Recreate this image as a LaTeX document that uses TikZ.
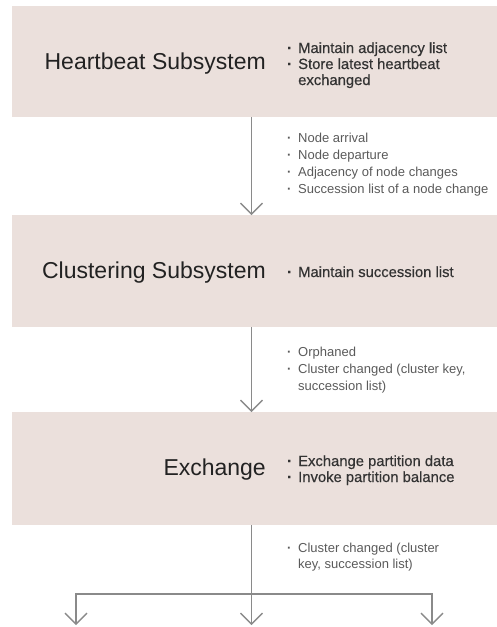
\documentclass[tikz,border=0pt]{standalone}
\usepackage{fontspec}
\setmainfont{Liberation Sans}
\newfontfamily\medfont{Liberation Sans}[FakeBold=0.5]
\usetikzlibrary{arrows.meta}
\definecolor{panelfill}{HTML}{EBE0DC}
\definecolor{titleink}{HTML}{222222}
\definecolor{noteink}{HTML}{333333}
\definecolor{flowink}{HTML}{5A5A5A}
\definecolor{lineink}{HTML}{8A8A8A}
% bullet list: a narrow bullet column and a text column
\newcommand\bulletlist[1]{\begin{tabular}[t]{@{}p{11pt}@{}l@{}}#1\end{tabular}}
\newcommand\blt{{\bfseries\textperiodcentered}}
\begin{document}
\begin{tikzpicture}[x=1pt,y=-1pt,
  panel/.style={fill=panelfill, draw=none, inner sep=0, anchor=north west,
                minimum width=485pt, minimum height=111pt},
  title/.style={anchor=base east, inner sep=0, text=titleink,
                font=\fontsize{23}{27}\selectfont},
  inlist/.style={anchor=base west, inner sep=0, text=noteink,
                font=\medfont\fontsize{14.8}{16}\selectfont},
  outlist/.style={anchor=base west, inner sep=0, text=flowink,
                font=\fontsize{13}{17.3}\selectfont},
  link/.style={draw=lineink, line width=1.4pt},
  flow/.style={link, -{Straight Barb[length=11pt,width=22pt]}}]
\useasboundingbox (0,0) rectangle (497,627);

% subsystem panels
\node[panel] (hb) at (12,6) {};
\node[panel, minimum height=112pt] (cl) at (12,215) {};
\node[panel, minimum height=113pt] (ex) at (12,412) {};

% panel titles
\node[title] (hbtitle) at (266,69) {Heartbeat Subsystem};
\node[title] (cltitle) at (266,278) {Clustering Subsystem};
\node[title] (extitle) at (266,475) {Exchange};

% duties of each subsystem
\node[inlist] (hbnotes) at (287,53) {\bulletlist{%
  \blt & Maintain adjacency list\\
  \blt & Store latest heartbeat\\
       & exchanged}};
\node[inlist] (clnotes) at (287,277) {\bulletlist{%
  \blt & Maintain succession list}};
\node[inlist] (exnotes) at (287,466) {\bulletlist{%
  \blt & Exchange partition data\\
  \blt & Invoke partition balance}};

% events passed down the chain
\node[outlist] (hbevents) at (287,142) {\bulletlist{%
  \blt & Node arrival\\
  \blt & Node departure\\
  \blt & Adjacency of node changes\\
  \blt & Succession list of a node change}};
\node[outlist, font=\fontsize{13}{17}\selectfont] (clevents) at (287,356) {\bulletlist{%
  \blt & Orphaned\\
  \blt & Cluster changed (cluster key,\\
       & succession list)}};
\node[outlist, font=\fontsize{13}{16}\selectfont] (exevents) at (287,552) {\bulletlist{%
  \blt & Cluster changed (cluster\\
       & key, succession list)}};

% connectors
\coordinate (spine) at (251.5,0);
\coordinate (split) at (251.5,594);
\coordinate (outL) at (76,625);
\coordinate (outM) at (251.5,625);
\coordinate (outR) at (432,625);

\draw[flow] (hb.south -| spine) -- (cl.north -| spine);
\draw[flow] (cl.south -| spine) -- (ex.north -| spine);
\draw[link] (ex.south -| spine) -- (split);
\draw[flow] (split) -- (outM);
\draw[flow] (split) -| (outL);
\draw[flow] (split) -| (outR);
\end{tikzpicture}
\end{document}
